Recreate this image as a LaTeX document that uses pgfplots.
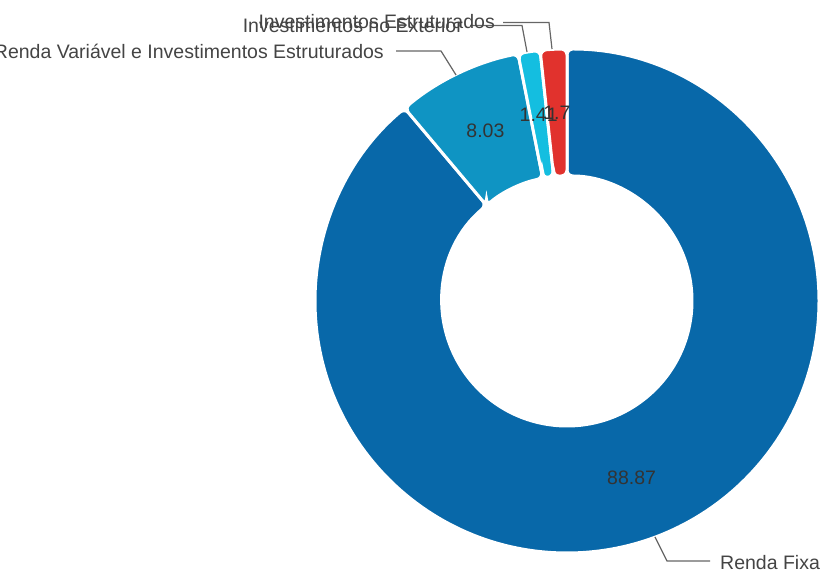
\documentclass[border=0pt]{standalone}
\usepackage{fontspec}
\setmainfont{Liberation Sans}
\usepackage{pgfplots}
\usepackage{pgfplotstable}
\pgfplotsset{compat=1.18}

\definecolor{pie0}{HTML}{0868A9}
\definecolor{pie1}{HTML}{0F94C3}
\definecolor{pie2}{HTML}{14BEE0}
\definecolor{pie3}{HTML}{E1322D}
\definecolor{valtxt}{HTML}{333333}
\definecolor{nametxt}{HTML}{444444}
\definecolor{leader}{HTML}{666666}

% share of each part (sum is 100.01)
\pgfplotstableread[col sep=comma]{
name,value
Renda Fixa,88.87
Renda Variável e Investimentos Estruturados,8.03
Investimentos no Exterior,1.41
Investimentos Estruturados,1.7
}\pietable

% total, then start / end / middle angle of each slice (clockwise from 90)
\xdef\pietotal{0}%
\pgfplotstableforeachcolumnelement{value}\of\pietable\as\v{%
  \pgfmathsetmacro\tmp{\pietotal+\v}\xdef\pietotal{\tmp}}%
\xdef\cum{0}%
\foreach \i in {0,...,3}{%
  \pgfplotstablegetelem{\i}{value}\of\pietable
  \expandafter\xdef\csname vl\i\endcsname{\pgfplotsretval}%
  \pgfmathsetmacro\a{90-360*(\cum/\pietotal)}%
  \pgfmathsetmacro\newcum{\cum+\pgfplotsretval}%
  \xdef\cum{\newcum}%
  \pgfmathsetmacro\b{90-360*(\cum/\pietotal)}%
  \pgfmathsetmacro\m{(\a+\b)/2}%
  \expandafter\xdef\csname sa\i\endcsname{\a}%
  \expandafter\xdef\csname ea\i\endcsname{\b}%
  \expandafter\xdef\csname ma\i\endcsname{\m}%
}%

\begin{document}
\begin{tikzpicture}
\useasboundingbox (0,0) rectangle (822pt,572pt);
\clip (0,0) rectangle (822pt,572pt);
\begin{axis}[
    at={(0,0)}, anchor=south west,
    width=822pt, height=572pt, scale only axis,
    xmin=0, xmax=822, ymin=0, ymax=572,
    hide axis, clip=false,
  ]
  % slices
  \pgfplotsinvokeforeach{0,...,3}{
    \fill[pie#1, draw=white, line width=3pt, rounded corners=6pt,
          shift={(axis cs:567,271)}]
      (\csname sa#1\endcsname:125pt) -- (\csname sa#1\endcsname:252pt)
      arc[start angle=\csname sa#1\endcsname, end angle=\csname ea#1\endcsname, radius=252pt]
      -- (\csname ea#1\endcsname:125pt)
      arc[start angle=\csname ea#1\endcsname, end angle=\csname sa#1\endcsname, radius=125pt]
      -- cycle;
  }
  % values inside the slices
  \pgfplotsinvokeforeach{0,...,3}{
    \node[shift={(axis cs:567,271)}, inner sep=0pt, text=valtxt,
          font=\fontsize{19.5}{22}\selectfont]
      at (\csname ma#1\endcsname:188.5pt) {\csname vl#1\endcsname};
  }
  % leader lines
  \draw[leader, line width=1.2pt] (axis cs:655,35) -- (axis cs:667,11) -- (axis cs:710,11);
  \draw[leader, line width=1.2pt] (axis cs:456,497) -- (axis cs:441,521) -- (axis cs:396,521);
  \draw[leader, line width=1.2pt] (axis cs:527,520) -- (axis cs:522,546.5) -- (axis cs:470,546.5);
  \draw[leader, line width=1.2pt] (axis cs:552,523) -- (axis cs:549,549.5) -- (axis cs:503,549.5);
  % names
  \begin{scope}[every node/.style={inner sep=0pt, text=nametxt, font=\fontsize{19.5}{22}\selectfont}]
    \node[anchor=base west] at (axis cs:720,2) {Renda Fixa};
    \node[anchor=base east] at (axis cs:384,513) {Renda Variável e Investimentos Estruturados};
    \node[anchor=base east] at (axis cs:463,539) {Investimentos no Exterior};
    \node[anchor=base east] at (axis cs:495,543) {Investimentos Estruturados};
  \end{scope}
\end{axis}
\end{tikzpicture}
\end{document}
